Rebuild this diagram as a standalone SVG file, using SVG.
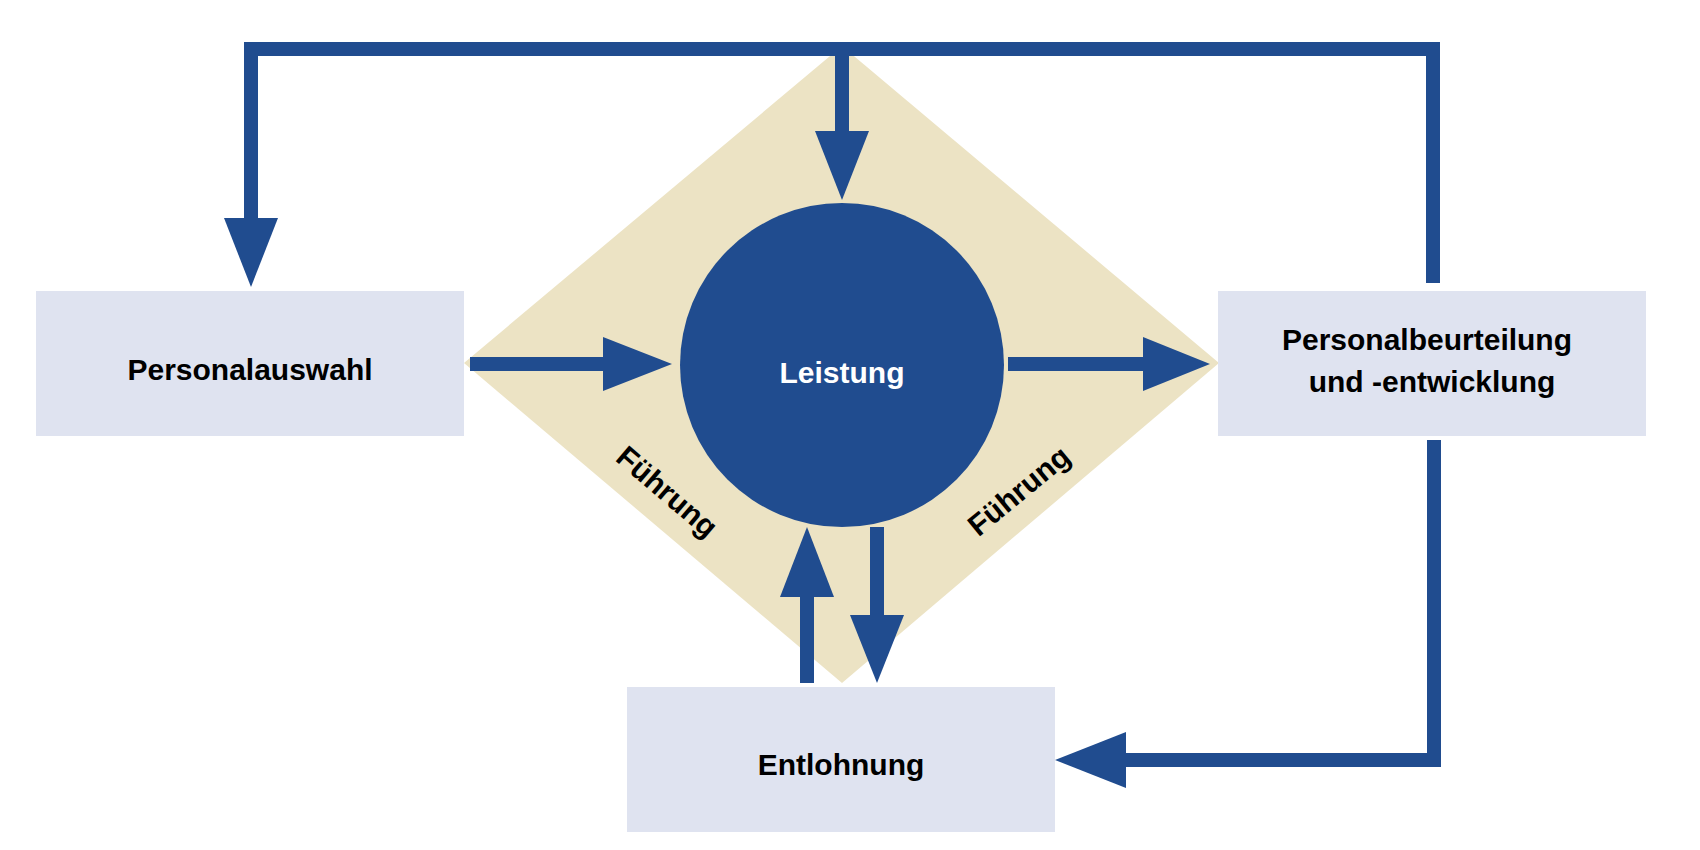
<svg xmlns="http://www.w3.org/2000/svg" width="1700" height="850" viewBox="0 0 1700 850">
<style>
.box{fill:#dfe3f0}
.lbl{font-family:"Liberation Sans",Arial,sans-serif;font-weight:bold;font-size:30px;fill:#000;text-anchor:middle}
.wht{fill:#fff}
.ln{fill:none;stroke:#204c8f;stroke-width:14;stroke-linejoin:miter}
.head{fill:#204c8f}
</style>
<rect width="1700" height="850" fill="#fff"/>
<g id="diamond"><polygon points="842,46 1219,363 842,683 464,363" fill="#ece3c4"/></g>
<g id="leistung">
<circle cx="842" cy="365" r="162" fill="#204c8f"/>
<text class="lbl wht" x="842" y="383">Leistung</text>
</g>
<g id="fuehrung-left"><text class="lbl" font-size="28" transform="translate(667,492) rotate(40.5)" y="10">Führung</text></g>
<g id="fuehrung-right"><text class="lbl" font-size="28" transform="translate(1019,491) rotate(-39.5)" y="10">Führung</text></g>
<g id="personalauswahl">
<rect class="box" x="36" y="291" width="428" height="145"/>
<text class="lbl" x="250" y="380">Personalauswahl</text>
</g>
<g id="personalbeurteilung">
<rect class="box" x="1218" y="291" width="428" height="145"/>
<text class="lbl" x="1427" y="350">Personalbeurteilung</text>
<text class="lbl" x="1432" y="392">und -entwicklung</text>
</g>
<g id="entlohnung">
<rect class="box" x="627" y="687" width="428" height="145"/>
<text class="lbl" x="841" y="775">Entlohnung</text>
</g>
<g id="connectors">
<polyline class="ln" points="1433,283 1433,49 251,49 251,219"/>
<polygon class="head" points="224,218 278,218 251,287"/>
<line class="ln" x1="842" y1="49" x2="842" y2="132"/>
<polygon class="head" points="815,131 869,131 842,200"/>
<line class="ln" x1="470" y1="364" x2="604" y2="364"/>
<polygon class="head" points="603,337 603,391 672,364"/>
<line class="ln" x1="1008" y1="364" x2="1144" y2="364"/>
<polygon class="head" points="1143,337 1143,391 1210,364"/>
<line class="ln" x1="807" y1="683" x2="807" y2="596"/>
<polygon class="head" points="780,597 834,597 807,527"/>
<line class="ln" x1="877" y1="527" x2="877" y2="616"/>
<polygon class="head" points="850,615 904,615 877,683"/>
<polyline class="ln" points="1434,440 1434,760 1125,760"/>
<polygon class="head" points="1126,732 1126,788 1055,760"/>
</g>
</svg>
